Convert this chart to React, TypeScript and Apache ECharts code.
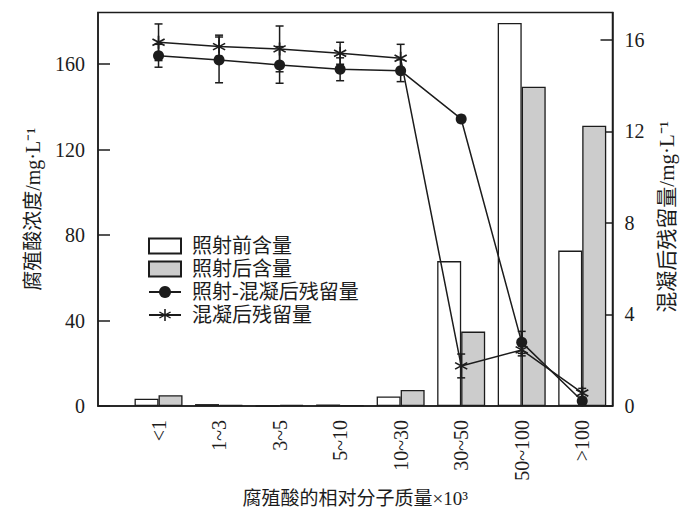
import React, { useEffect, useRef } from 'react';
import * as echarts from 'echarts';

const categories = ['<1', '1~3', '3~5', '5~10', '10~30', '30~50', '50~100', '>100'];
const beforeIrradiation = [3.4, 0.9, 0, 0.7, 4.5, 67.8, 179.2, 72.7];
const afterIrradiation = [5.0, 0.6, 0.5, 0.4, 7.5, 34.8, 149.4, 131.1];
const irradCoagResidual = [15.3, 15.12, 14.9, 14.71, 14.65, 12.54, 2.78, 0.22];
const irradCoagError = [0.5, 1.0, 0.8, 0.5, 0.48, 0.15, 0.48, 0.15];
const coagResidual = [15.89, 15.7, 15.6, 15.41, 15.19, 1.75, 2.45, 0.57];
const coagError = [0.8, 0.5, 1.0, 0.48, 0.61, 0.52, 0.26, 0.2];

const leftAxis = { min: 0, max: 184.1, interval: 40 };
const rightAxis = { min: 0, max: 17.19, interval: 4 };
const xRange = { min: 0, max: 8.5 };

const seriesNames = ['照射前含量', '照射后含量', '照射-混凝后残留量', '混凝后残留量'];

const STAR =
  'path://M44 0 L56 0 L56 100 L44 100 Z M90.3 19.8 L96.3 30.2 L9.7 80.2 L3.7 69.8 Z M3.7 30.2 L9.7 19.8 L96.3 69.8 L90.3 80.2 Z';

const INK = '#1c1c1c';
const FONT = "'Liberation Serif', 'Noto Sans CJK SC', serif";

function errorSeries(name: string, values: number[], errors: number[]) {
  return {
    name,
    type: 'custom',
    xAxisIndex: 0,
    yAxisIndex: 1,
    z: 4,
    silent: true,
    data: values.map((v, i) => [i + 1, v - errors[i], v + errors[i]]),
    encode: { x: 0, y: [1, 2] },
    renderItem: (params: any, api: any) => {
      const x = api.value(0);
      const lo = api.coord([x, api.value(1)]);
      const hi = api.coord([x, api.value(2)]);
      const hw = 4;
      const style = { stroke: INK, lineWidth: 1.5 };
      return {
        type: 'group',
        children: [
          { type: 'line', shape: { x1: lo[0], y1: lo[1], x2: hi[0], y2: hi[1] }, style },
          { type: 'line', shape: { x1: lo[0] - hw, y1: lo[1], x2: lo[0] + hw, y2: lo[1] }, style },
          { type: 'line', shape: { x1: hi[0] - hw, y1: hi[1], x2: hi[0] + hw, y2: hi[1] }, style },
        ],
      };
    },
  };
}

export default function App() {
  const ref = useRef<HTMLDivElement>(null);
  useEffect(() => {
    if (!ref.current) return;
    const chart = echarts.init(ref.current, undefined, { renderer: 'svg' });
    const axisLine = { show: true, lineStyle: { color: INK, width: 1.5 } };
    const option: any = {
      animation: false,
      backgroundColor: '#ffffff',
      grid: {
        left: 98,
        right: 87.5,
        top: 12.5,
        bottom: 118,
        show: true,
        borderColor: INK,
        borderWidth: 1.5,
        backgroundColor: 'transparent',
      },
      legend: {
        orient: 'vertical',
        left: 143,
        top: 231,
        itemWidth: 32,
        itemHeight: 15,
        itemGap: 3,
        data: [
          { name: seriesNames[0], icon: 'rect' },
          { name: seriesNames[1], icon: 'rect' },
          { name: seriesNames[2] },
          { name: seriesNames[3] },
        ],
        textStyle: { fontSize: 20, color: INK, fontFamily: FONT, padding: [0, 0, 0, 6] },
      },
      xAxis: {
        type: 'value',
        min: xRange.min,
        max: xRange.max,
        interval: 1,
        axisLine,
        axisTick: { show: false },
        splitLine: { show: false },
        axisLabel: {
          rotate: 90,
          margin: 14,
          fontSize: 20,
          color: INK,
          fontFamily: FONT,
          showMinLabel: false,
          showMaxLabel: false,
          formatter: (v: number) => (Number.isInteger(v) && v >= 1 && v <= categories.length ? categories[v - 1] : ''),
        },
        name: '腐殖酸的相对分子质量×10³',
        nameLocation: 'middle',
        nameGap: 79,
        nameTextStyle: { fontSize: 19, color: INK, fontFamily: FONT },
      },
      yAxis: [
        {
          type: 'value',
          position: 'left',
          min: leftAxis.min,
          max: leftAxis.max,
          interval: leftAxis.interval,
          axisLine,
          axisTick: { show: true, inside: true, length: 12, lineStyle: { color: INK, width: 1.5 } },
          splitLine: { show: false },
          axisLabel: { margin: 13, fontSize: 20, color: INK, fontFamily: FONT, showMaxLabel: false },
          name: '腐殖酸浓度/mg·L⁻¹',
          nameLocation: 'middle',
          nameGap: 55,
          nameTextStyle: { fontSize: 20, color: INK, fontFamily: FONT },
        },
        {
          type: 'value',
          position: 'right',
          min: rightAxis.min,
          max: rightAxis.max,
          interval: rightAxis.interval,
          axisLine,
          axisTick: { show: true, inside: true, length: 12, lineStyle: { color: INK, width: 1.5 } },
          splitLine: { show: false },
          axisLabel: { margin: 12, fontSize: 20, color: INK, fontFamily: FONT, showMaxLabel: false },
          name: '混凝后残留量/mg·L⁻¹',
          nameLocation: 'middle',
          nameGap: 44,
          nameTextStyle: { fontSize: 21, color: INK, fontFamily: FONT, padding: [0, 15, 0, 0] },
        },
      ],
      series: [
        {
          name: seriesNames[0],
          type: 'bar',
          xAxisIndex: 0,
          yAxisIndex: 0,
          barWidth: 24,
          barGap: '0%',
          z: 1,
          data: beforeIrradiation.map((v, i) => [i + 1, v]),
          itemStyle: { color: '#ffffff', borderColor: INK, borderWidth: 1.3 },
        },
        {
          name: seriesNames[1],
          type: 'bar',
          xAxisIndex: 0,
          yAxisIndex: 0,
          barWidth: 24,
          barGap: '0%',
          z: 1,
          data: afterIrradiation.map((v, i) => [i + 1, v]),
          itemStyle: { color: '#cccccc', borderColor: INK, borderWidth: 1.3 },
        },
        errorSeries('err1', irradCoagResidual, irradCoagError),
        errorSeries('err2', coagResidual, coagError),
        {
          name: seriesNames[2],
          type: 'line',
          xAxisIndex: 0,
          yAxisIndex: 1,
          z: 5,
          symbol: 'circle',
          symbolSize: 11,
          data: irradCoagResidual.map((v, i) => [i + 1, v]),
          itemStyle: { color: INK },
          lineStyle: { color: INK, width: 1.5 },
        },
        {
          name: seriesNames[3],
          type: 'line',
          xAxisIndex: 0,
          yAxisIndex: 1,
          z: 5,
          symbol: STAR,
          symbolSize: 13,
          data: coagResidual.map((v, i) => [i + 1, v]),
          itemStyle: { color: INK },
          lineStyle: { color: INK, width: 1.5 },
        },
      ],
    };
    chart.setOption(option);
    return () => chart.dispose();
  }, []);
  return (
    <div
      ref={ref}
      style={{ position: 'fixed', left: 0, top: 0, width: 700, height: 524, background: '#fff' }}
    />
  );
}
